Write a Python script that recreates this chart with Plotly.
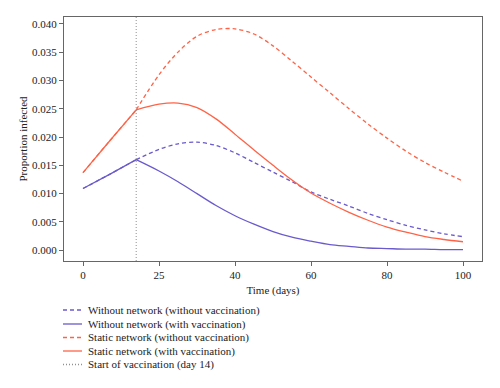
import plotly.graph_objects as go

days = [0, 7, 14, 20, 25, 30, 35, 40, 45, 50, 55, 60, 65, 70, 75, 80, 85, 90, 95, 100]
without_net_no_vacc = [0.0109, 0.0134, 0.0160, 0.0178, 0.0188, 0.0191, 0.0185, 0.0172, 0.0155, 0.0138, 0.0121, 0.0103,
                       0.0090, 0.0078, 0.0065, 0.0054, 0.0044, 0.0036, 0.0029, 0.0024]
without_net_vacc = [0.0109, 0.0134, 0.0160, 0.0140, 0.0121, 0.0100, 0.0079, 0.0061, 0.0046, 0.0033, 0.0023, 0.0016,
                    0.0010, 0.0007, 0.0004, 0.0003, 0.0002, 0.0002, 0.0001, 0.0001]
static_net_no_vacc = [0.0137, 0.0193, 0.0248, 0.0310, 0.0350, 0.0378, 0.0390, 0.0391, 0.0382, 0.0361, 0.0334, 0.0306,
                      0.0278, 0.0250, 0.0223, 0.0198, 0.0175, 0.0155, 0.0138, 0.0122]
static_net_vacc = [0.0137, 0.0193, 0.0248, 0.0258, 0.0260, 0.0252, 0.0232, 0.0205, 0.0177, 0.0150, 0.0124, 0.0101,
                   0.0083, 0.0067, 0.0053, 0.0041, 0.0032, 0.0024, 0.0019, 0.0015]
vaccination_day = 14

x_tickvals = [0, 20, 40, 60, 80, 100]
x_ticktext = ["0", "25", "40", "60", "80", "100"]
y_tickvals = [0.0, 0.005, 0.010, 0.015, 0.020, 0.025, 0.030, 0.035, 0.040]

legend_labels = [
    "Without network (without vaccination)",
    "Without network (with vaccination)",
    "Static network (without vaccination)",
    "Static network (with vaccination)",
    "Start of vaccination (day 14)",
]

BLUE = "#6a5acd"
ORANGE = "#ff6347"
GRAY = "#909090"
FONT = "Liberation Serif"

fig = go.Figure()
series = [
    (without_net_no_vacc, BLUE, "4px,3px"),
    (static_net_no_vacc, ORANGE, "4px,3px"),
    (without_net_vacc, BLUE, "solid"),
    (static_net_vacc, ORANGE, "solid"),
]
k = days.index(vaccination_day)
for vals, col, dash in series:
    # before vaccination: near-straight segments; after: smooth curve (keeps the kink at day 14 sharp)
    fig.add_trace(go.Scatter(x=days[:k + 1], y=vals[:k + 1], mode="lines",
                             line=dict(color=col, width=1.3, dash=dash, shape="spline", smoothing=0.3),
                             showlegend=False, hoverinfo="skip"))
    fig.add_trace(go.Scatter(x=days[k:], y=vals[k:], mode="lines",
                             line=dict(color=col, width=1.3, dash=dash, shape="spline", smoothing=0.9),
                             showlegend=False, hoverinfo="skip"))

fig.add_shape(type="line", xref="x", yref="paper", x0=vaccination_day, x1=vaccination_day, y0=0, y1=1,
              line=dict(color=GRAY, width=1, dash="1px,2px"))

# page has an 8px body margin; figure is sized/offset to compensate
OFF = 8
FW, FH = 500 - OFF, 388 - OFF
L, R, T, B = 64 - OFF, 482 - OFF, 17 - OFF, 261 - OFF
W, H = R - L, B - T
def px(xp):
    return (xp - OFF - L) / W
def py(yp):
    return (B - (yp - OFF)) / H

leg_styles = [(BLUE, "4px,3px"), (BLUE, "solid"), (ORANGE, "4px,3px"), (ORANGE, "solid"), (GRAY, "1px,2px")]
leg_y = [310, 324, 337.5, 351, 364.5]
for (col, dash), lab, yy in zip(leg_styles, legend_labels, leg_y):
    fig.add_shape(type="line", xref="paper", yref="paper", x0=px(63), x1=px(82), y0=py(yy), y1=py(yy),
                  line=dict(color=col, width=1.3, dash=dash))
    fig.add_annotation(xref="paper", yref="paper", x=px(86), y=py(yy), text=lab, showarrow=False,
                       xanchor="left", yanchor="middle", font=dict(family=FONT, size=11, color="#222"))

fig.update_layout(
    width=FW, height=FH,
    margin=dict(l=L, r=FW - R, t=T, b=FH - B),
    paper_bgcolor="white", plot_bgcolor="white",
    font=dict(family=FONT, size=11, color="#222"),
    showlegend=False,
)
fig.update_xaxes(range=[-5, 105], tickvals=x_tickvals, ticktext=x_ticktext, showgrid=False, zeroline=False,
                 showline=True, mirror=True, linecolor="#666", linewidth=1.2, ticks="outside", ticklen=4,
                 tickcolor="#666", automargin=False,
                 title=dict(text="Time (days)", standoff=6, font=dict(size=11)))
fig.update_yaxes(range=[-0.0019, 0.0412], tickvals=y_tickvals, tickformat=".3f", showgrid=False, zeroline=False,
                 showline=True, mirror=True, linecolor="#666", linewidth=1.2, ticks="outside", ticklen=4,
                 tickcolor="#666", automargin=False,
                 title=dict(text="Proportion infected", standoff=2, font=dict(size=11)))

fig.write_html("out.html")
